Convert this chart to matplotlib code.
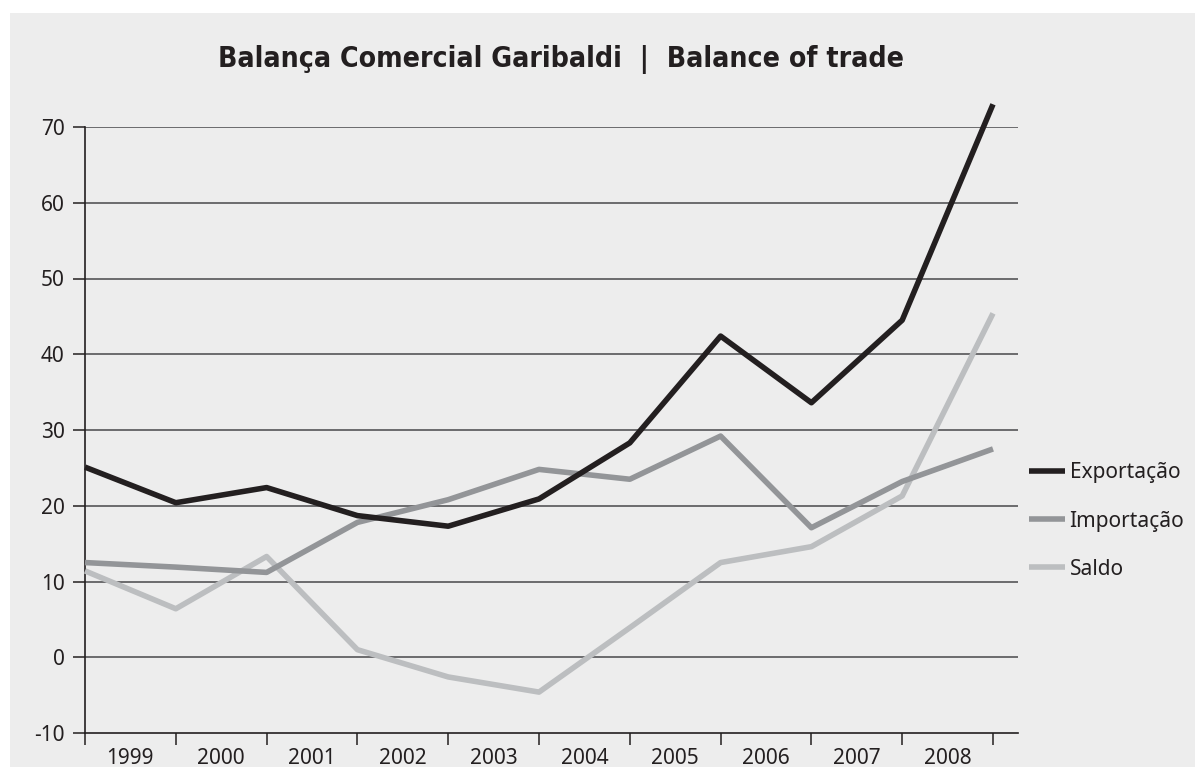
"""
Balança Comercial Garibaldi | Balance of trade
Exportação / Importação / Saldo, 1999-2008
"""
import matplotlib
matplotlib.use('Agg')
import matplotlib.pyplot as plt
from matplotlib.patches import Rectangle

plt.rcParams['font.family'] = ['Noto Sans', 'DejaVu Sans']

# dados (pontos nos limites dos anos)
pos = [0, 1, 2, 3, 4, 5, 6, 7, 8, 9, 10]
exportacao = [25.1, 20.4, 22.4, 18.7, 17.3, 20.9, 28.3, 42.4, 33.6, 44.5, 73.0]
importacao = [12.5, 11.9, 11.2, 17.8, 20.8, 24.8, 23.5, 29.2, 17.1, 23.2, 27.5]
saldo = [11.4, 6.4, 13.3, 1.0, -2.6, -4.6, 3.9, 12.5, 14.6, 21.3, 45.4]
anos = ['1999', '2000', '2001', '2002', '2003', '2004', '2005', '2006', '2007', '2008']
y_ticks = [-10, 0, 10, 20, 30, 40, 50, 60, 70]

COR = dict(exp='#231f20', imp='#939598', sal='#bcbec0')
TXT = '#231f20'

fig = plt.figure(figsize=(11.95, 7.67), dpi=100, facecolor='white')
# fundo cinza
fig.patches.append(Rectangle((10 / 1195, 0), 1, 1 - 13 / 767, transform=fig.transFigure,
                             facecolor='#ededed', edgecolor='none', zorder=-10))

ax = fig.add_axes([85 / 1195, 1 - 733 / 767, 933 / 1195, (733 - 127) / 767])
ax.set_facecolor('none')

lw = 4.0
ax.plot(pos, exportacao, color=COR['exp'], lw=lw, label='Exportação', clip_on=False,
        solid_capstyle='butt', zorder=5)
ax.plot(pos, importacao, color=COR['imp'], lw=lw, label='Importação', clip_on=False,
        solid_capstyle='butt', zorder=4)
ax.plot(pos, saldo, color=COR['sal'], lw=lw, label='Saldo', clip_on=False,
        solid_capstyle='butt', zorder=3)

ax.set_xlim(0, 933 / 90.8)
ax.set_ylim(-10, 70)

# eixo y
ax.set_yticks(y_ticks)
ax.set_yticklabels([str(v) for v in y_ticks])
ax.tick_params(axis='y', direction='out', length=8.6, width=1.1, color=TXT, pad=6,
               labelsize=15, labelcolor=TXT)
for v in y_ticks[1:]:
    ax.axhline(v, color='#555557', lw=1.2, zorder=1)

# eixo x: marcas nos limites, rótulos no meio
ax.set_xticks(pos)
ax.set_xticklabels([])
ax.set_xticks([p + 0.5 for p in pos[:-1]], minor=True)
ax.set_xticklabels(anos, minor=True)
ax.tick_params(axis='x', which='major', direction='out', length=8.6, width=1.1, color=TXT)
ax.tick_params(axis='x', which='minor', length=0, pad=10.5, labelsize=15, labelcolor=TXT)

for s in ['top', 'right']:
    ax.spines[s].set_visible(False)
for s in ['left', 'bottom']:
    ax.spines[s].set_color(TXT)
    ax.spines[s].set_linewidth(1.2)

fig.text(561 / 1195, 1 - 60 / 767, 'Balança Comercial Garibaldi  |  Balance of trade',
         ha='center', va='center', fontsize=20.3, fontweight='bold', color=TXT,
         family=['DejaVu Sans'], fontstretch='condensed')

ax.legend(loc='center left', bbox_to_anchor=(1029 / 1195, 1 - 521 / 767),
          bbox_transform=fig.transFigure, frameon=False, fontsize=15,
          handlelength=1.75, handletextpad=0.2, labelspacing=1.3, borderpad=0,
          borderaxespad=0, labelcolor=TXT)

fig.savefig('out.png', dpi=100, facecolor='white')
